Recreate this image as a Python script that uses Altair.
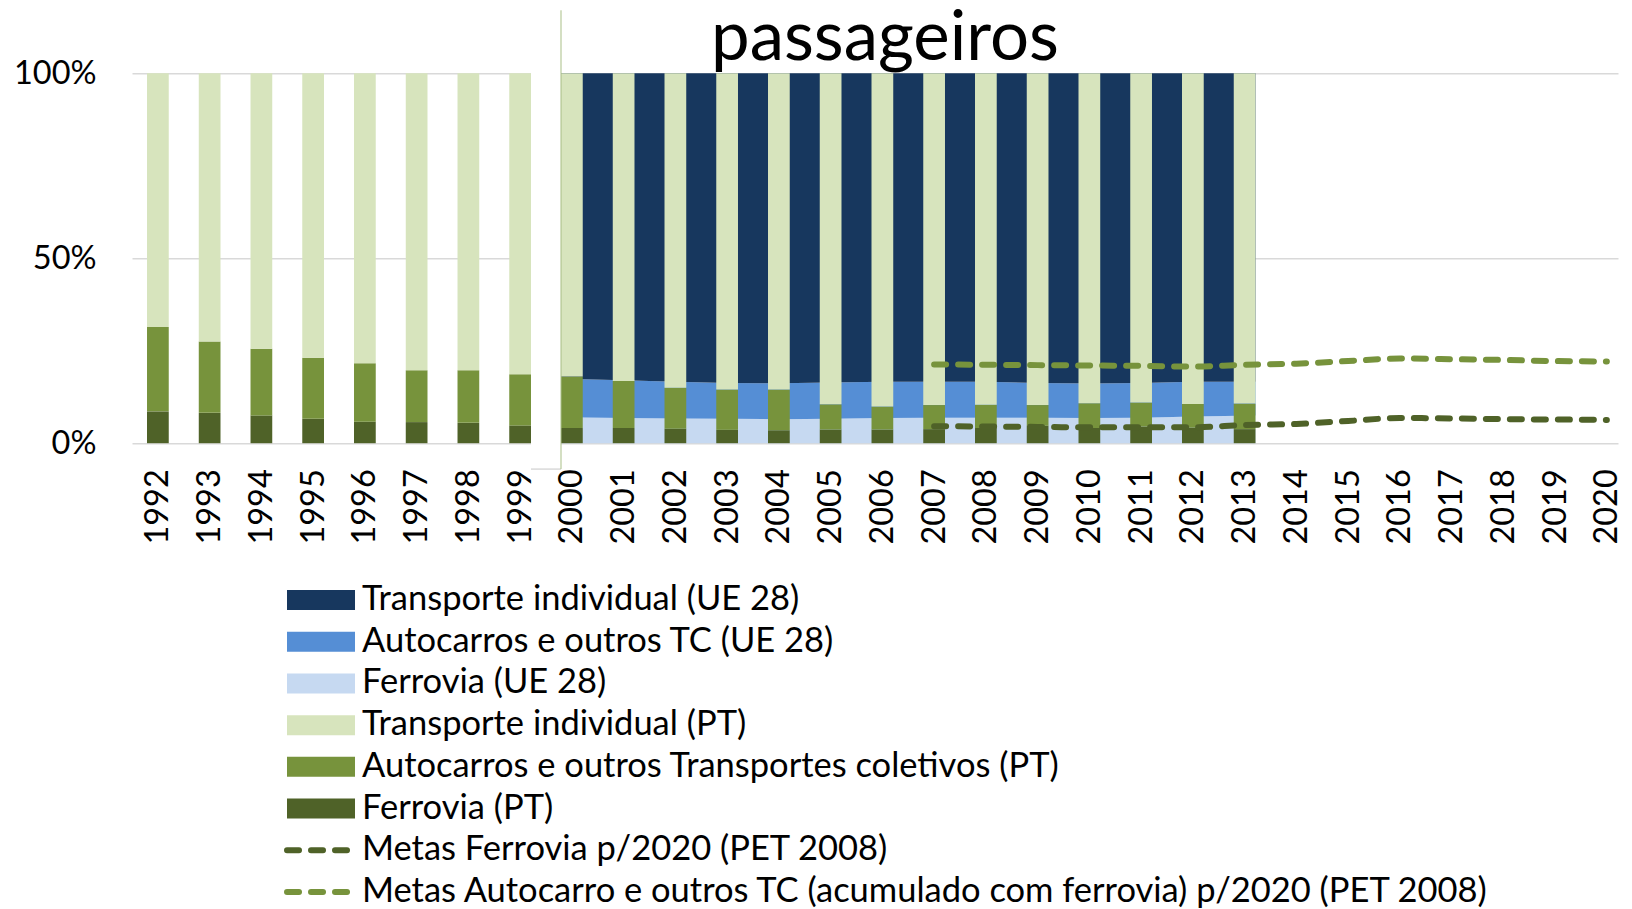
import altair as alt
import pandas as pd

FONT = "Lato"

# ---------------- data ----------------
axis_years = list(range(1992, 2021))

pt_years = list(range(1992, 2014))
pt_ferrovia = [8.6, 8.2, 7.5, 6.6, 5.8, 5.7, 5.5, 4.8, 4.1, 4.1, 3.9, 3.6, 3.5, 3.7,
               3.7, 3.8, 4.1, 4.7, 4.1, 4.5, 4.2, 3.8]
pt_autocarros = [22.8, 19.3, 18.0, 16.5, 15.8, 14.0, 14.2, 13.8, 13.9, 12.7, 11.1, 10.9,
                 11.0, 6.8, 6.2, 6.5, 6.3, 5.6, 6.7, 6.5, 6.4, 6.9]
pt_individual = [68.6, 72.5, 74.5, 76.9, 78.4, 80.3, 80.3, 81.4, 82.0, 83.2, 85.0, 85.5,
                 85.5, 89.5, 90.1, 89.7, 89.6, 89.7, 89.2, 89.0, 89.4, 89.3]

ue_years = list(range(2000, 2014))
ue_ferrovia = [7.0, 6.8, 6.7, 6.6, 6.5, 6.6, 6.8, 6.9, 6.9, 6.9, 6.8, 6.9, 7.2, 7.5]
ue_autocarros = [10.4, 10.2, 9.9, 9.7, 9.7, 9.8, 9.8, 9.7, 9.7, 9.4, 9.3, 9.4, 9.4, 9.1]
ue_individual = [82.6, 83.0, 83.4, 83.7, 83.8, 83.6, 83.4, 83.4, 83.4, 83.7, 83.9, 83.7,
                 83.4, 83.4]

meta_years = list(range(2007, 2021))
meta_ferrovia = [4.6, 4.5, 4.4, 4.3, 4.3, 4.3, 4.9, 5.2, 6.0, 6.8, 6.7, 6.5, 6.4, 6.3]
meta_autocarro = [21.3, 21.2, 21.1, 21.0, 20.9, 20.7, 21.2, 21.5, 22.2, 22.9, 22.7, 22.5,
                  22.2, 22.1]

series = [
    "Transporte individual (UE 28)",
    "Autocarros e outros TC (UE 28)",
    "Ferrovia (UE 28)",
    "Transporte individual (PT)",
    "Autocarros e outros Transportes coletivos (PT)",
    "Ferrovia (PT)",
    "Metas Ferrovia p/2020 (PET 2008)",
    "Metas Autocarro e outros TC (acumulado com ferrovia) p/2020 (PET 2008)",
]
colors = ["#17375E", "#558ED5", "#C6D9F1", "#D7E4BD", "#77933C", "#4F6228",
          "#4F6228", "#77933C"]
kinds = ["rect"] * 6 + ["dash"] * 2
title_text = "passageiros"

# ---------------- layout constants ----------------
HALF = 0.21          # half bar width in years
W = 1486
H = 370
X_MIN, X_MAX = 1991.5, 2020.215
ROW = 41.7           # legend row pitch in px
LEG_MAX = 7.2
LEG_H = (LEG_MAX + 0.5) * ROW

# ---------------- tables ----------------
pt_rows = []
for i, yr in enumerate(pt_years):
    base = 0.0
    for name, vals in [(series[5], pt_ferrovia), (series[4], pt_autocarros),
                       (series[3], pt_individual)]:
        v = vals[i]
        pt_rows.append({"serie": name, "x0": yr - HALF, "x1": yr + HALF,
                        "y0": base, "y1": base + v})
        base += v
pt_df = pd.DataFrame(pt_rows)

ue_rows = []
for i, yr in enumerate(ue_years):
    xpos = yr
    if i == 0:
        xpos = yr - HALF
    elif i == len(ue_years) - 1:
        xpos = yr + HALF
    base = 0.0
    for name, vals in [(series[2], ue_ferrovia), (series[1], ue_autocarros),
                       (series[0], ue_individual)]:
        v = vals[i]
        ue_rows.append({"serie": name, "xpos": xpos, "y0": base, "y1": base + v})
        base += v
ue_df = pd.DataFrame(ue_rows)

meta_rows = []
for name, vals in [(series[6], meta_ferrovia), (series[7], meta_autocarro)]:
    for yr, v in zip(meta_years, vals):
        meta_rows.append({"serie": name, "year": yr, "v": v})
meta_df = pd.DataFrame(meta_rows)

patch_df = pd.DataFrame([{"x0": 1999 + HALF, "x1": 2000 - HALF, "y0": -7, "y1": 100.8,
                          "ytop": 117}])

# ---------------- scales / axes ----------------
xscale = alt.Scale(domain=[X_MIN, X_MAX], nice=False, zero=False)
yscale = alt.Scale(domain=[0, 100], nice=False)
cscale = alt.Scale(domain=series, range=colors)

xaxis = alt.Axis(values=axis_years, format="d", labelAngle=-90, labelFontSize=32.5,
                 labelFont=FONT, labelColor="black", grid=False, ticks=False,
                 domain=False, labelPadding=25.5, title=None, labelOverlap=False,
                 labelFlush=False)
yaxis = alt.Axis(values=[0, 50, 100], labelExpr="datum.value + '%'", grid=True,
                 gridColor="#D9D9D9", gridWidth=1.5, ticks=False, domain=False,
                 labelFontSize=32.5, labelFont=FONT, labelColor="black",
                 labelPadding=36, title=None)

area = alt.Chart(ue_df).mark_area(interpolate="linear").encode(
    x=alt.X("xpos:Q", scale=xscale, axis=xaxis),
    y=alt.Y("y1:Q", scale=yscale, axis=yaxis),
    y2="y0:Q",
    color=alt.Color("serie:N", scale=cscale, legend=None),
)

bars = alt.Chart(pt_df).mark_rect().encode(
    x=alt.X("x0:Q", scale=xscale, axis=xaxis),
    x2="x1:Q",
    y=alt.Y("y0:Q", scale=yscale, axis=yaxis),
    y2="y1:Q",
    color=alt.Color("serie:N", scale=cscale, legend=None),
)

patch = alt.Chart(patch_df).mark_rect(color="white").encode(
    x=alt.X("x0:Q", scale=xscale, axis=xaxis),
    x2="x1:Q",
    y=alt.Y("y0:Q", scale=yscale, axis=yaxis),
    y2="y1:Q",
)

patch_line = alt.Chart(patch_df).mark_rule(color="#D9D9D9", strokeWidth=1.5).encode(
    x=alt.X("x0:Q", scale=xscale, axis=xaxis),
    x2="x1:Q",
    y=alt.Y("y0:Q", scale=yscale, axis=yaxis),
)

vline = alt.Chart(patch_df).mark_rule(color="#A9BF86", strokeWidth=1).encode(
    x=alt.X("x1:Q", scale=xscale, axis=xaxis),
    y=alt.Y("y0:Q", scale=yscale, axis=yaxis),
    y2="ytop:Q",
)

lines = alt.Chart(meta_df).mark_line(
    strokeDash=[12, 12], strokeCap="round", strokeWidth=6, interpolate="monotone"
).encode(
    x=alt.X("year:Q", scale=xscale, axis=xaxis),
    y=alt.Y("v:Q", scale=yscale, axis=yaxis),
    color=alt.Color("serie:N", scale=cscale, legend=None),
)

title = alt.Chart(pd.DataFrame({"t": [title_text]})).mark_text(
    font=FONT, fontSize=69, baseline="alphabetic", align="center", color="black"
).encode(x=alt.value(W / 2 + 10), y=alt.value(-13.5), text="t:N")

main = alt.layer(area, bars, patch, patch_line, vline, lines, title).properties(
    width=W, height=H
)

# ---------------- legend ----------------
leg_df = pd.DataFrame({"label": series, "color": colors, "kind": kinds,
                       "idx": list(range(len(series)))})
leg_df["yt"] = leg_df["idx"] - 0.24
leg_df["yb"] = leg_df["idx"] + 0.24
lyscale = alt.Scale(domain=[-0.5, LEG_MAX], reverse=True, nice=False, zero=False)

leg_rects = alt.Chart(leg_df).transform_filter("datum.kind == 'rect'").mark_rect().encode(
    x=alt.value(155), x2=alt.value(223),
    y=alt.Y("yt:Q", scale=lyscale, axis=None), y2="yb:Q",
    color=alt.Color("color:N", scale=None),
)
leg_dash = alt.Chart(leg_df).transform_filter("datum.kind == 'dash'").mark_rule(
    strokeDash=[12, 12], strokeCap="round", strokeWidth=6
).encode(
    x=alt.value(155), x2=alt.value(215),
    y=alt.Y("idx:Q", scale=lyscale, axis=None),
    color=alt.Color("color:N", scale=None),
)
leg_text = alt.Chart(leg_df).mark_text(
    align="left", baseline="middle", font=FONT, fontSize=34.5, color="black"
).encode(
    x=alt.value(230),
    y=alt.Y("idx:Q", scale=lyscale, axis=None),
    text="label:N",
)
legend = alt.layer(leg_rects, leg_dash, leg_text).properties(width=W, height=LEG_H)

chart = alt.vconcat(main, legend, spacing=35).resolve_scale(
    x="independent", y="independent", color="independent"
).properties(
    padding={"left": 5, "top": -3.8, "right": 0, "bottom": 0},
    background="white",
).configure_view(stroke=None)

chart.save("out.html", embed_options={"renderer": "svg", "actions": False})
